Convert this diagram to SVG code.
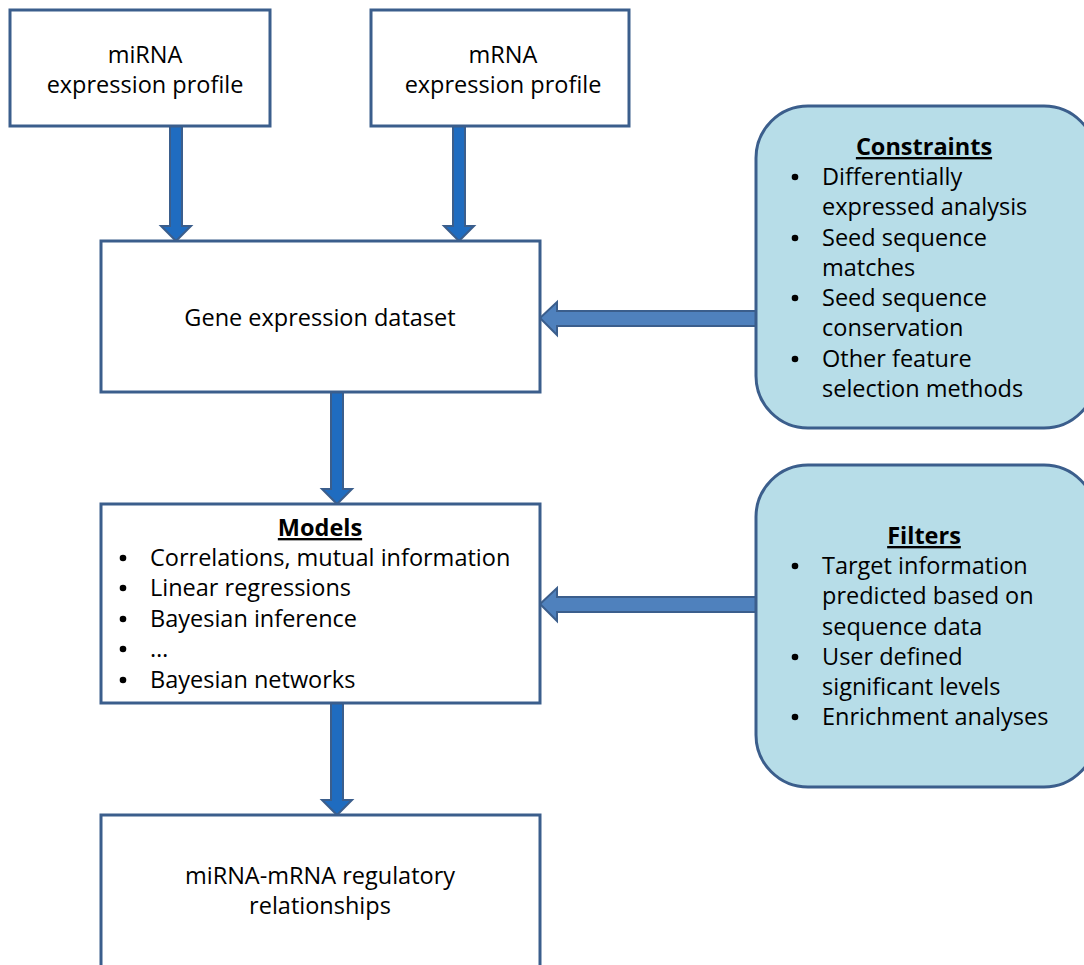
<svg xmlns="http://www.w3.org/2000/svg" width="1084" height="965" viewBox="0 0 1084 965">
<style>
.box{fill:#ffffff;stroke:#3b5e8c;stroke-width:3}
.rbox{fill:#b7dde8;stroke:#3b5e8c;stroke-width:3}
.t{font-family:"Open Sans",sans-serif;font-size:23.5px;fill:#000}
.c{text-anchor:middle}
.h{font-weight:bold;text-decoration:underline}
.b{fill:#000}
.va{fill:#1f6cc0;stroke:#3b5e8c;stroke-width:2}
.ha{fill:#4f81bd;stroke:#3b5e8c;stroke-width:2}
</style>
<rect width="1084" height="965" fill="#ffffff"/>
<g id="connectors">
<path class="va" d="M170,126 L182,126 L182,226 L191,226 L176,241 L161,226 L170,226 Z"/>
<path class="va" d="M453,126 L465,126 L465,226 L474,226 L459,241 L444,226 L453,226 Z"/>
<path class="va" d="M331,392 L343,392 L343,489 L352,489 L337,504 L322,489 L331,489 Z"/>
<path class="va" d="M331,703 L343,703 L343,800 L352,800 L337,815 L322,800 L331,800 Z"/>
<path class="ha" d="M756,311 L557,311 L557,302 L540,318 L557,335 L557,326 L756,326 Z"/>
<path class="ha" d="M756,597 L557,597 L557,588 L540,604 L557,621 L557,612 L756,612 Z"/>
</g>
<g id="mirna">
<rect class="box" x="10" y="10" width="260" height="116"/>
<text class="t c" x="145" y="63">miRNA</text>
<text class="t c" x="145" y="93">expression profile</text>
</g>
<g id="mrna">
<rect class="box" x="371" y="10" width="258" height="116"/>
<text class="t c" x="503" y="63">mRNA</text>
<text class="t c" x="503" y="93">expression profile</text>
</g>
<g id="gene">
<rect class="box" x="101" y="241" width="439" height="151"/>
<text class="t c" x="320" y="326">Gene expression dataset</text>
</g>
<g id="constraints">
<rect class="rbox" x="756" y="106" width="340" height="322" rx="52" ry="52"/>
<text class="t c h" x="924" y="155">Constraints</text>
<circle class="b" cx="795" cy="177" r="3.3"/><text class="t" x="822" y="185">Differentially</text>
<text class="t" x="822" y="215">expressed analysis</text>
<circle class="b" cx="795" cy="238" r="3.3"/><text class="t" x="822" y="246">Seed sequence</text>
<text class="t" x="822" y="276">matches</text>
<circle class="b" cx="795" cy="298" r="3.3"/><text class="t" x="822" y="306">Seed sequence</text>
<text class="t" x="822" y="336">conservation</text>
<circle class="b" cx="795" cy="359" r="3.3"/><text class="t" x="822" y="367">Other feature</text>
<text class="t" x="822" y="397">selection methods</text>
</g>
<g id="models">
<rect class="box" x="101" y="504" width="439" height="199"/>
<text class="t c h" x="320" y="536">Models</text>
<circle class="b" cx="123" cy="558" r="3.3"/><text class="t" x="150" y="566">Correlations, mutual information</text>
<circle class="b" cx="123" cy="588" r="3.3"/><text class="t" x="150" y="596">Linear regressions</text>
<circle class="b" cx="123" cy="619" r="3.3"/><text class="t" x="150" y="627">Bayesian inference</text>
<circle class="b" cx="123" cy="649" r="3.3"/><text class="t" x="150" y="657">…</text>
<circle class="b" cx="123" cy="680" r="3.3"/><text class="t" x="150" y="688">Bayesian networks</text>
</g>
<g id="filters">
<rect class="rbox" x="756" y="465" width="340" height="322" rx="52" ry="52"/>
<text class="t c h" x="924" y="544">Filters</text>
<circle class="b" cx="795" cy="566" r="3.3"/><text class="t" x="822" y="574">Target information</text>
<text class="t" x="822" y="604">predicted based on</text>
<text class="t" x="822" y="635">sequence data</text>
<circle class="b" cx="795" cy="657" r="3.3"/><text class="t" x="822" y="665">User defined</text>
<text class="t" x="822" y="695">significant levels</text>
<circle class="b" cx="795" cy="717" r="3.3"/><text class="t" x="822" y="725">Enrichment analyses</text>
</g>
<g id="result">
<rect class="box" x="101" y="815" width="439" height="170"/>
<text class="t c" x="320" y="884">miRNA-mRNA regulatory</text>
<text class="t c" x="320" y="914">relationships</text>
</g>
</svg>
